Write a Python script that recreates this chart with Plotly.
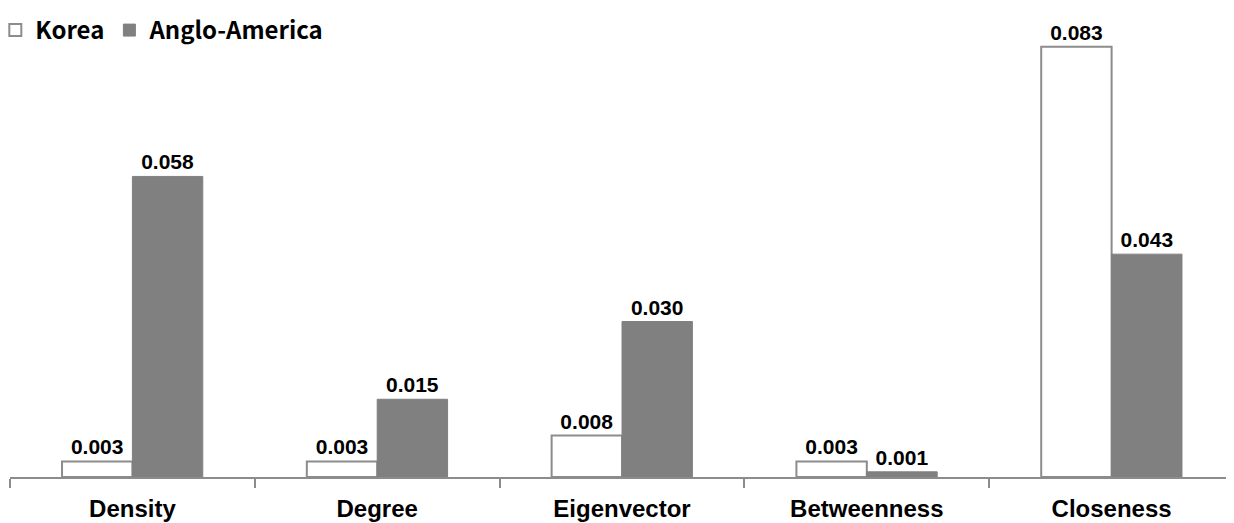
import plotly.graph_objects as go

categories = ["Density", "Degree", "Eigenvector", "Betweenness", "Closeness"]
korea = [0.003, 0.003, 0.008, 0.003, 0.083]
anglo = [0.058, 0.015, 0.030, 0.001, 0.043]

label_font = dict(family="Liberation Sans, Arial", size=21, color="black", weight="bold")

fig = go.Figure()
fig.add_trace(go.Bar(
    x=categories, y=korea, name="Korea",
    marker=dict(color="white", line=dict(color="#8c8c8c", width=2)),
    texttemplate="%{y:.3f}", textposition="outside", textfont=label_font,
    cliponaxis=False,
))
fig.add_trace(go.Bar(
    x=categories, y=anglo, name="Anglo-America",
    marker=dict(color="#808080", line=dict(color="#808080", width=1)),
    texttemplate="%{y:.3f}", textposition="outside", textfont=label_font,
    cliponaxis=False,
))

fig.update_layout(
    width=1226, height=515,
    margin=dict(l=2, r=0, t=0, b=46, autoexpand=False),
    plot_bgcolor="white", paper_bgcolor="white",
    barmode="group", bargap=0.425, bargroupgap=0,
    showlegend=True,
    legend=dict(
        orientation="h", x=-0.012, y=1.0, xanchor="left", yanchor="top",
        font=dict(family="Noto Sans CJK KR", size=24, color="black", weight="bold"),
        itemwidth=30, tracegroupgap=0, bgcolor="rgba(0,0,0,0)",
    ),
    xaxis=dict(
        type="category", showline=True, linecolor="#8c8c8c", linewidth=2,
        ticks="outside", tickson="boundaries", ticklen=9, tickcolor="#8c8c8c", tickwidth=2,
        tickfont=dict(family="Liberation Sans, Arial", size=24, color="black", weight="bold"),
        ticklabelstandoff=9,
        showgrid=False, automargin=False,
    ),
    yaxis=dict(
        range=[0, 0.0905], visible=False, showgrid=False, zeroline=False, automargin=False,
    ),
)

fig.write_html("out.html")
